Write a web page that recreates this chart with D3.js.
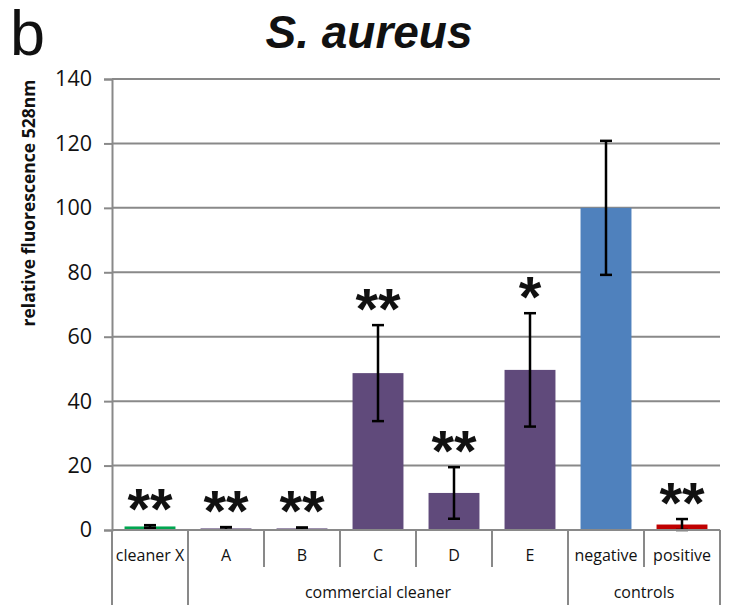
<!DOCTYPE html>
<html>
<head>
<meta charset="utf-8">
<script src="https://cdn.jsdelivr.net/npm/d3@7"></script>
<style>
  body { margin: 0; background: #fff; }
  svg { display: block; }
  .tick-label { font-family: "Open Sans", sans-serif; font-size: 21.5px; fill: #111; }
  .cat-label { font-family: "Open Sans", sans-serif; font-size: 16px; fill: #111; }
</style>
</head>
<body>
<div id="chart-div"></div>
<script>
const categories = ["cleaner X", "A", "B", "C", "D", "E", "negative", "positive"];
const values = [1.1, 0.5, 0.5, 48.7, 11.5, 49.7, 100, 1.7];
const errors = [0.4, 0.4, 0.3, 14.9, 8.0, 17.6, 20.8, 1.7];
const stars = ["**", "**", "**", "**", "**", "*", "", "**"];
const barColors = ["#00a650", "#604a7b", "#604a7b", "#604a7b", "#604a7b", "#604a7b", "#4f81bd", "#c00000"];
const groupLabels = ["", "commercial cleaner", "controls"];
const groupStarts = [0, 1, 6];
const groupEnds = [1, 6, 8];
const yTicks = [0, 20, 40, 60, 80, 100, 120, 140];

const width = 732;
const height = 607;
const gray = "#898989";

const plotLeft = 112, plotRight = 720, plotTop = 79, plotBottom = 530;

const svg = d3.select("#chart-div")
    .append("svg")
    .attr("width", width)
    .attr("height", height);

const xScale = d3.scaleBand()
    .domain(d3.range(categories.length))
    .range([plotLeft, plotRight])
    .padding(0);

const yScale = d3.scaleLinear()
    .domain([0, 140])
    .range([plotBottom, plotTop]);

const barWidth = xScale.bandwidth() * 0.67;

// gridlines
svg.selectAll("line.grid").data(yTicks.filter(d => d > 0)).enter().append("line")
    .attr("x1", plotLeft)
    .attr("x2", plotRight)
    .attr("y1", d => yScale(d))
    .attr("y2", d => yScale(d))
    .style("stroke", gray)
    .style("stroke-width", 2);

// y axis
const yAxis = svg.append("g")
    .attr("transform", "translate(" + plotLeft + ",0)")
    .call(d3.axisLeft(yScale).tickValues(yTicks).tickSize(8).tickPadding(12));
yAxis.select(".domain").style("stroke", gray).style("stroke-width", 2);
yAxis.selectAll(".tick line").style("stroke", gray).style("stroke-width", 2);
yAxis.attr("font-family", null).attr("font-size", null);
yAxis.selectAll(".tick text").attr("class", "tick-label");

svg.append("text")
    .text("relative fluorescence 528nm")
    .attr("transform", "translate(35,203) rotate(-90)")
    .attr("text-anchor", "middle")
    .style("font-family", "'Open Sans', sans-serif")
    .style("font-weight", "bold")
    .style("font-size", "17.5px")
    .style("fill", "#111");

// bars
svg.selectAll("rect.bar").data(values).enter().append("rect")
    .attr("x", (d, i) => xScale(i) + (xScale.bandwidth() - barWidth) / 2)
    .attr("width", barWidth)
    .attr("y", d => yScale(d))
    .attr("height", d => plotBottom - yScale(d))
    .style("fill", (d, i) => barColors[i]);

// error bars
const errG = svg.append("g");
values.forEach(function(v, i) {
    const cx = xScale(i) + xScale.bandwidth() / 2;
    const y1 = yScale(v + errors[i]);
    const y0 = yScale(v - errors[i]);
    errG.append("line")
        .attr("x1", cx).attr("x2", cx).attr("y1", y0).attr("y2", y1)
        .style("stroke", "#000").style("stroke-width", 2.5);
    [y0, y1].forEach(function(y) {
        errG.append("line")
            .attr("x1", cx - 6).attr("x2", cx + 6).attr("y1", y).attr("y2", y)
            .style("stroke", "#000").style("stroke-width", 2.5);
    });
});

// significance stars
svg.selectAll("text.star").data(stars).enter().append("text")
    .text(d => d)
    .attr("x", (d, i) => xScale(i) + xScale.bandwidth() / 2)
    .attr("y", (d, i) => yScale(values[i] + errors[i]) + 4)
    .attr("text-anchor", "middle")
    .style("font-family", "'Liberation Sans', Arial, sans-serif")
    .style("font-weight", "bold")
    .style("font-size", "58px")
    .style("fill", "#111");

// baseline
svg.append("line")
    .attr("x1", plotLeft).attr("x2", plotRight)
    .attr("y1", plotBottom).attr("y2", plotBottom)
    .style("stroke", gray).style("stroke-width", 2);

// category separators
const bounds = d3.range(categories.length + 1);
svg.selectAll("line.sep").data(bounds).enter().append("line")
    .attr("x1", d => d < categories.length ? xScale(d) : plotRight)
    .attr("x2", d => d < categories.length ? xScale(d) : plotRight)
    .attr("y1", plotBottom)
    .attr("y2", d => (groupStarts.includes(d) || d === categories.length) ? 605 : 567)
    .style("stroke", gray)
    .style("stroke-width", 2);

svg.selectAll("text.cat").data(categories).enter().append("text")
    .text(d => d)
    .attr("x", (d, i) => xScale(i) + xScale.bandwidth() / 2)
    .attr("y", 561)
    .attr("text-anchor", "middle")
    .classed("cat-label", true);

svg.selectAll("text.group").data(groupLabels).enter().append("text")
    .text(d => d)
    .attr("x", (d, i) => (xScale(groupStarts[i]) + (groupEnds[i] < categories.length ? xScale(groupEnds[i]) : plotRight)) / 2)
    .attr("y", 598)
    .attr("text-anchor", "middle")
    .classed("cat-label", true);

// titles
svg.append("text")
    .text("S. aureus")
    .attr("x", 369)
    .attr("y", 48)
    .attr("text-anchor", "middle")
    .style("font-family", "'Liberation Sans', Arial, sans-serif")
    .style("font-weight", "bold")
    .style("font-style", "italic")
    .style("font-size", "46px")
    .style("fill", "#111");

svg.append("text")
    .text("b")
    .attr("x", 10)
    .attr("y", 55)
    .style("font-family", "'Liberation Sans', Arial, sans-serif")
    .style("font-size", "63px")
    .style("fill", "#111");
</script>
</body>
</html>
